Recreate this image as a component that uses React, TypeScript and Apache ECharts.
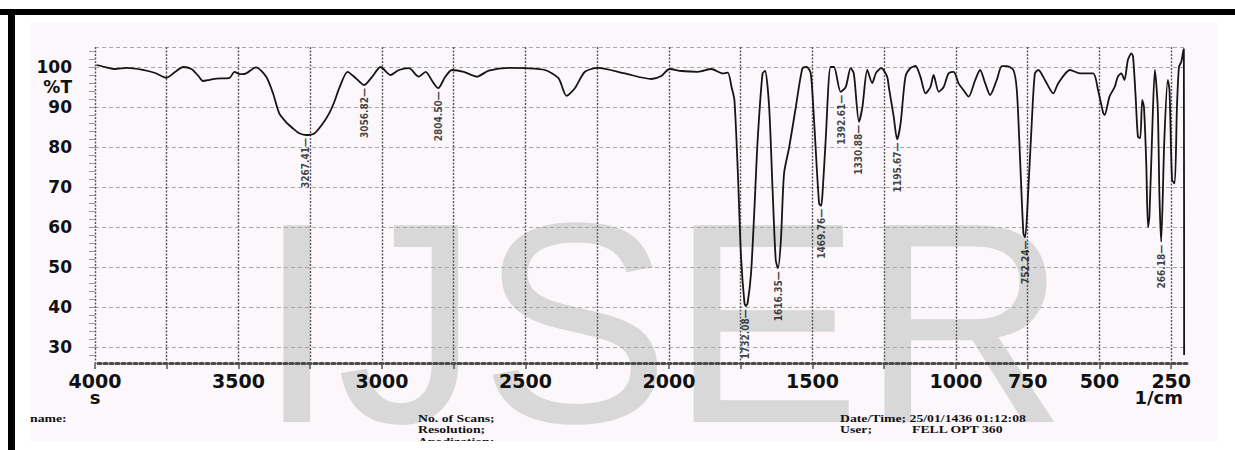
import React, { useEffect, useRef } from 'react';
import * as echarts from 'echarts';

// Spectrum trace (wavenumber in 1/cm, transmittance in %T)
const wavenumbers = [
  3995, 3960, 3931, 3890, 3833, 3790, 3751, 3720, 3693, 3664, 3640, 3624, 3600, 3577, 3531, 3514, 3495,
  3479, 3439, 3404, 3380, 3358, 3335, 3311, 3290, 3265, 3236, 3210, 3184, 3165, 3149, 3120, 3091, 3062,
  3034, 3005, 2970, 2941, 2906, 2872, 2848, 2825, 2804, 2780, 2756, 2715, 2669, 2628, 2559, 2501, 2432,
  2385, 2357, 2328, 2293, 2247, 2154, 2061, 2027, 1998, 1957, 1899, 1853, 1812, 1795, 1782, 1772, 1760,
  1749, 1737, 1732, 1726, 1714, 1702, 1691, 1674, 1665, 1651, 1639, 1628, 1620, 1610, 1599, 1581, 1558,
  1535, 1520, 1506, 1494, 1477, 1470, 1465, 1454, 1437, 1425, 1402, 1384, 1367, 1356, 1338, 1326, 1309,
  1292, 1278, 1260, 1240, 1234, 1217, 1205, 1193, 1176, 1159, 1141, 1124, 1106, 1089, 1078, 1060, 1043,
  1026, 1008, 991, 974, 956, 933, 916, 898, 881, 858, 840, 823, 800, 788, 777, 765, 759, 748, 736, 725,
  713, 690, 661, 644, 603, 568, 522, 505, 487, 482, 465, 447, 436, 424, 413, 401, 389, 383, 374, 366,
  358, 351, 345, 337, 331, 326, 316, 307, 297, 291, 285, 274, 262, 256, 247, 238, 230, 223, 215, 208,
  206, 205,
];
const transmittance = [
  100.5, 99.9, 99.5, 99.8, 99.3, 98.5, 97.3, 98.8, 100, 99.5, 97.8, 96.5, 96.8, 97.1, 97.3, 98.8, 98.2,
  98.25, 99.9, 97.6, 93.5, 88.4, 86.3, 84.7, 83.5, 83, 83.4, 85.5, 88.4, 91.5, 94.7, 98.8, 97.2, 95.5,
  97.6, 100, 98, 99.25, 99.7, 97.6, 98.8, 96.5, 94.7, 97.5, 99.25, 98.8, 97.6, 99.1, 99.8, 99.7, 99.25,
  97.2, 92.8, 94.7, 98.8, 99.8, 98.4, 97, 97.75, 99.5, 99, 98.8, 99.5, 98.4, 98.6, 95, 91.75, 73.5,
  52.6, 41, 40.2, 41, 48.5, 65, 81.75, 98.4, 99, 90, 69.25, 51.75, 49.7, 56.75, 73.4, 80, 90,
  99.7, 100, 98.4, 86, 65.9, 65.3, 68.4, 81.75, 100, 100, 93.8, 95, 99.7, 98.4, 86.3, 90, 99.25,
  96, 98.6, 99.7, 97.6, 95, 87.6, 81.9, 85.9, 97.6, 99.7, 100.25, 97.6, 93.4, 95, 98, 93.8, 95,
  98.4, 98.8, 95.9, 94.25, 92.6, 96.75, 99.25, 95.9, 93, 96.75, 100.2, 100.2, 99.25, 94.25, 77.6, 58.4, 57.4, 69.25, 86, 98.4,
  99.25, 96.75, 93.4, 95.9, 99.25, 98.4, 98.4, 94.25, 88.5, 88, 92.6, 95, 97.6, 98.4, 96.75, 101.75, 103.4, 102.6, 92.6, 82.6,
  82.2, 91.75, 90, 76, 60, 62.6, 84.25, 99.25, 90, 67.6, 56.3, 81.75, 96.75, 94.25, 71.75, 70.9, 90, 100, 101.3, 104,
  104.5, 28,
];

// Annotated peaks
const peakWavenumbers = [3265, 3060, 2804, 1732, 1620, 1470, 1400, 1338, 1205, 759, 285];
const peakTransmittance = [83, 95.5, 94.7, 40.2, 49.7, 65.3, 93.8, 86.3, 81.9, 57.4, 56.3];
const peakLabels = ['3267.41', '3056.82', '2804.50', '1732.08', '1616.35', '1469.76', '1392.61', '1330.88', '1195.67', '752.24', '266.18'];

// Axes
const xGridValues = [4000, 3750, 3500, 3250, 3000, 2750, 2500, 2250, 2000, 1750, 1500, 1250, 1000, 750, 500, 250];
const xLabelValues = [4000, 3500, 3000, 2500, 2000, 1500, 1000, 750, 500, 250];
const yGridValues = [30, 40, 50, 60, 70, 80, 90, 100, 105];
const yLabelValues = [30, 40, 50, 60, 70, 80, 90, 95, 100];
const yMinorTickValues = [28, 30, 32, 34, 36, 38, 40, 42, 44, 46, 48, 50, 52, 54, 56, 58, 60, 62, 64, 66, 68, 70, 72, 74, 76, 78, 80, 82, 84, 86, 88, 90, 92, 94, 96, 98, 100, 102, 104];

const footerLeft = ['name:'];
const footerMiddle = ['No. of Scans;', 'Resolution;', 'Apodization;'];
const footerRight = ['Date/Time; 25/01/1436 01:12:08', 'User;'];
const footerUser = 'FELL OPT 360';

export default function App() {
  const ref = useRef<HTMLDivElement>(null);
  useEffect(() => {
    if (!ref.current) return;
    const chart = echarts.init(ref.current, undefined, { renderer: 'svg' });
    const tickFont = 'DejaVu Sans';
    const footerFont = 'bold 11px "Liberation Serif", serif';
    const footerText = (t: string, x: number, y: number) => ({
      type: 'text', x, y, scaleX: 1.25, style: { text: t, font: footerFont, fill: '#111', verticalAlign: 'middle' },
    });
    const graphics: any[] = [
      { type: 'rect', z: -20, silent: true, shape: { x: 16, y: 16, width: 1219, height: 434 }, style: { fill: '#ffffff' } },
      { type: 'rect', z: -19, silent: true, shape: { x: 30, y: 23, width: 1188, height: 418 }, style: { fill: '#fbf7fb' } },
      {
        type: 'text', z: -10, silent: true, x: 257, y: 466,
        style: { text: 'IJSER', font: '286px "Liberation Sans", Arial, sans-serif', fill: '#d8d8d8', verticalAlign: 'bottom' },
      },
      { type: 'rect', z: 50, silent: true, shape: { x: 0, y: 9, width: 1235, height: 6 }, style: { fill: '#000' } },
      { type: 'rect', z: 50, silent: true, shape: { x: 8, y: 9, width: 7, height: 441 }, style: { fill: '#000' } },
      { type: 'text', x: 95, y: 397, style: { text: 's', font: `bold 18px "${tickFont}"`, fill: '#111', align: 'center', verticalAlign: 'middle' } },
      { type: 'text', x: 1183, y: 397, style: { text: '1/cm', font: `bold 18px "${tickFont}"`, fill: '#111', align: 'right', verticalAlign: 'middle' } },
    ];
    footerLeft.forEach((t, i) => graphics.push(footerText(t, 30, 418 + i * 11.5)));
    footerMiddle.forEach((t, i) => graphics.push(footerText(t, 418, 418 + i * 11.5)));
    footerRight.forEach((t, i) => graphics.push(footerText(t, 840, 418 + i * 11.5)));
    graphics.push(footerText(footerUser, 912, 429.5));
    graphics.push({ type: 'rect', z: 40, silent: true, shape: { x: 15, y: 441, width: 1220, height: 9 }, style: { fill: '#ffffff' } });

    chart.setOption({
      animation: false,
      backgroundColor: '#ffffff',
      grid: { left: 95, right: 48, top: 47, bottom: 87, containLabel: false, outerBoundsMode: 'none' },
      xAxis: {
        type: 'value',
        min: 195,
        max: 4000,
        inverse: true,
        axisLine: { show: true, lineStyle: { color: '#4a4a4a', width: 3, type: [3, 3] } },
        axisTick: { show: true, customValues: xGridValues, length: 6, lineStyle: { color: '#555', width: 1.5 } },
        axisLabel: {
          customValues: xLabelValues,
          margin: 8,
          color: '#111',
          fontFamily: tickFont,
          fontWeight: 'bold',
          fontSize: 19,
          formatter: (v: number) => String(v),
        },
        splitLine: { show: true, lineStyle: { color: '#555', width: 1.4, type: [2, 1.5] } },
      },
      yAxis: [
        {
          type: 'value',
          min: 26,
          max: 105,
          axisLine: { show: false },
          axisTick: { show: false, customValues: yGridValues },
          axisLabel: {
            customValues: yLabelValues,
            margin: 23,
            color: '#111',
            fontFamily: tickFont,
            fontWeight: 'bold',
            fontSize: 17,
            formatter: (v: number) => (v === 95 ? '%T' : String(v)),
          },
          splitLine: { show: true, lineStyle: { color: '#a8a8a8', width: 1, type: [4, 3] } },
        },
        {
          type: 'value',
          min: 26,
          max: 105,
          position: 'left',
          axisLine: { show: false },
          axisTick: { show: true, customValues: yMinorTickValues, length: 6, lineStyle: { color: '#999', width: 1 } },
          axisLabel: { show: false },
          splitLine: { show: false },
        },
      ],
      series: [
        {
          type: 'line',
          data: wavenumbers.map((w, i) => [w, transmittance[i]]),
          showSymbol: false,
          smooth: 0.25,
          lineStyle: { color: '#151515', width: 1.8 },
          z: 5,
        },
        {
          type: 'scatter',
          data: peakWavenumbers.map((w, i) => [w, peakTransmittance[i]]),
          symbolSize: 0,
          z: 6,
          label: {
            show: true,
            position: 'bottom',
            distance: 3,
            rotate: 90,
            align: 'right',
            verticalAlign: 'middle',
            color: '#111',
            fontFamily: '"Liberation Sans Narrow", "DejaVu Sans Condensed", "Liberation Sans", sans-serif',
            fontWeight: 'bold',
            fontSize: 10,
            formatter: (p: any) => peakLabels[p.dataIndex] + '\u2014',
          },
        },
      ],
      graphic: graphics,
    });
    return () => chart.dispose();
  }, []);
  return <div ref={ref} style={{ width: 1235, height: 450, position: 'absolute', left: 0, top: 0 }} />;
}
